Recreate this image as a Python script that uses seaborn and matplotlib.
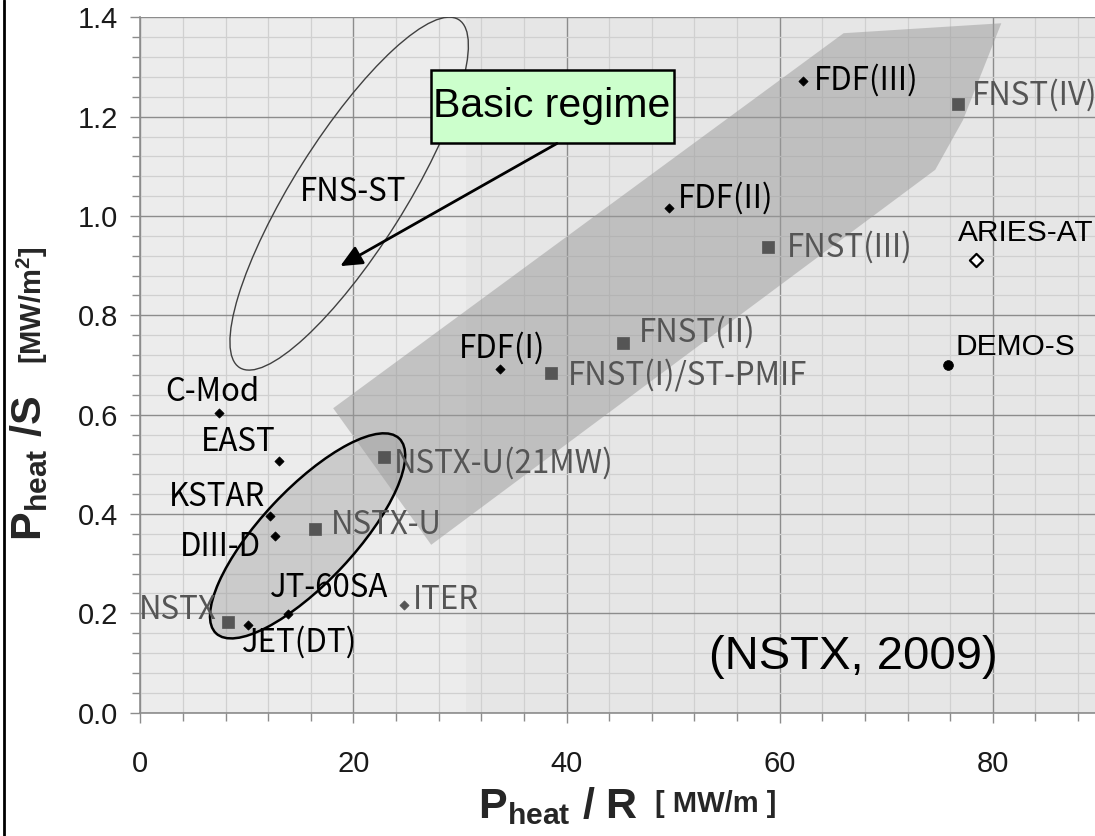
import numpy as np
import pandas as pd
import matplotlib
matplotlib.use("Agg")
import matplotlib.pyplot as plt
import seaborn as sns
from matplotlib.patches import Ellipse, Polygon, Rectangle
from matplotlib.transforms import ScaledTranslation
from matplotlib.lines import Line2D

# ---------------- data ----------------
diamond_names = ["C-Mod", "EAST", "KSTAR", "DIII-D", "JET(DT)", "JT-60SA",
                 "FDF(I)", "FDF(II)", "FDF(III)"]
diamond_x = [7.4, 13.0, 12.2, 12.6, 10.1, 13.9, 33.8, 49.6, 62.2]
diamond_y = [0.604, 0.507, 0.397, 0.356, 0.177, 0.199, 0.691, 1.017, 1.272]

iter_names = ["ITER"]
iter_x = [24.7]
iter_y = [0.217]

square_names = ["NSTX", "NSTX-U", "NSTX-U(21MW)", "FNST(I)/ST-PMIF",
                "FNST(II)", "FNST(III)", "FNST(IV)"]
square_x = [8.2, 16.4, 22.9, 38.5, 45.3, 58.9, 76.7]
square_y = [0.183, 0.369, 0.514, 0.684, 0.744, 0.938, 1.225]

aries_names = ["ARIES-AT"]
aries_x = [78.4]
aries_y = [0.911]

demo_names = ["DEMO-S"]
demo_x = [75.8]
demo_y = [0.700]

# shaded operating band (data coordinates)
band_x = [18.1, 66.0, 80.8, 77.2, 74.6, 27.3]
band_y = [0.613, 1.368, 1.388, 1.193, 1.093, 0.338]

x_ticks = [0, 20, 40, 60, 80]
y_ticks = [0.0, 0.2, 0.4, 0.6, 0.8, 1.0, 1.2, 1.4]
y_tick_labels = ["0.0", "0.2", "0.4", "0.6", "0.8", "1.0", "1.2", "1.4"]

# ---------------- style ----------------
sns.set_theme(style="white")
plt.rcParams["font.family"] = ["Liberation Sans", "DejaVu Sans"]
plt.rcParams["mathtext.fontset"] = "custom"
plt.rcParams["mathtext.rm"] = "Liberation Sans"
plt.rcParams["mathtext.bf"] = "Liberation Sans:bold"
plt.rcParams["mathtext.it"] = "Liberation Sans:italic"

LABEL_FONT = ["Noto Sans CJK JP", "Liberation Sans"]
LABEL_SIZE = 22.5
GRAY = "#555555"

W, H = 1095, 836
fig = plt.figure(figsize=(W / 100, H / 100), dpi=100)
ax = fig.add_axes([140.3 / W, 1 - 712.7 / H, 1 - 140.3 / W + 0.003, (712.7 - 17.3) / H])
ax.set_facecolor("#e6e6e6")
ax.set_xlim(0, 89.9)
ax.set_ylim(0, 1.4)

# lighter left part of the plotting area
ax.axvspan(0, 30.6, color="#ececec", zorder=0, lw=0)

# grid
ax.set_xticks(x_ticks)
ax.set_xticks(np.arange(0, 90, 4), minor=True)
ax.set_yticks(y_ticks)
ax.set_yticks(np.arange(0, 1.41, 0.04), minor=True)
ax.set_yticklabels(y_tick_labels)
ax.grid(True, which="minor", color="#d0d0d0", lw=0.9, zorder=0.5)
ax.grid(True, which="major", color="#8c8c8c", lw=1.0, zorder=0.5)
ax.set_axisbelow(True)
for s in ["top", "right"]:
    ax.spines[s].set_visible(False)
for s in ["left", "bottom"]:
    ax.spines[s].set_color("#8c8c8c")
    ax.spines[s].set_linewidth(1.2)
ax.tick_params(which="both", direction="out", color="#8c8c8c", width=1.0,
               left=True, bottom=True)
ax.tick_params(which="major", length=7)
ax.tick_params(which="minor", length=6)
ax.tick_params(axis="y", labelsize=21, pad=9, labelcolor="#1a1a1a")
ax.tick_params(axis="x", labelsize=21, pad=20, labelcolor="#1a1a1a")

# band
ax.add_patch(Polygon(np.column_stack([band_x, band_y]), closed=True,
                     facecolor="#9a9a9a", alpha=0.5, edgecolor="none", zorder=1))

# ellipses (sizes in pixels, centre in data units)
def ellipse(xc, yc, a_px, b_px, ang, **kw):
    tr = fig.dpi_scale_trans + ScaledTranslation(xc, yc, ax.transData)
    e = Ellipse((0, 0), 2 * a_px / 100, 2 * b_px / 100, angle=ang, transform=tr, **kw)
    ax.add_patch(e)

ellipse(19.6, 1.045, 205.6, 55.6, 57.8, facecolor="none", edgecolor="#404040",
        lw=1.0, zorder=3)
ellipse(15.7, 0.356, 133.7, 46.6, 46.8, facecolor="#9a9a9a", alpha=0.4,
        edgecolor="none", zorder=2)
ellipse(15.7, 0.356, 133.7, 46.6, 46.8, facecolor="none", edgecolor="black",
        lw=1.8, zorder=3)

# markers via seaborn
def pts(names, xs, ys):
    return pd.DataFrame({"name": names, "x": xs, "y": ys})

df_d = pts(diamond_names, diamond_x, diamond_y)
df_i = pts(iter_names, iter_x, iter_y)
df_s = pts(square_names, square_x, square_y)
df_a = pts(aries_names, aries_x, aries_y)
df_m = pts(demo_names, demo_x, demo_y)

sns.scatterplot(data=df_d, x="x", y="y", marker="D", s=22, color="black",
                edgecolor="black", linewidth=0.5, ax=ax, zorder=5)
sns.scatterplot(data=df_i, x="x", y="y", marker="D", s=22, color=GRAY,
                edgecolor=GRAY, linewidth=0.5, ax=ax, zorder=5)
sns.scatterplot(data=df_s, x="x", y="y", marker="s", s=70, color=GRAY,
                edgecolor=GRAY, linewidth=0.5, ax=ax, zorder=5)
sns.scatterplot(data=df_a, x="x", y="y", marker="D", s=45, color="white",
                edgecolor="black", linewidth=1.6, ax=ax, zorder=5)
sns.scatterplot(data=df_m, x="x", y="y", marker="o", s=50, color="black",
                edgecolor="black", linewidth=0.5, ax=ax, zorder=5)
ax.set_xlabel("")
ax.set_ylabel("")

# labels: (offset px, ha, color)
label_style = {
    "C-Mod": ((-7, 21), "center", "black"),
    "EAST": ((-3, 19), "right", "black"),
    "KSTAR": ((-5, 19), "right", "black"),
    "DIII-D": ((-14, -11), "right", "black"),
    "JET(DT)": ((-6, -18), "left", "black"),
    "JT-60SA": ((-18, 26), "left", "black"),
    "FDF(I)": ((2, 21), "center", "black"),
    "FDF(II)": ((9, 9), "left", "black"),
    "FDF(III)": ((11, 1), "left", "black"),
    "ITER": ((9, 5), "left", GRAY),
    "NSTX": ((-11, 12), "right", GRAY),
    "NSTX-U": ((16, 4), "left", GRAY),
    "NSTX-U(21MW)": ((10, -6), "left", GRAY),
    "FNST(I)/ST-PMIF": ((17, -2), "left", GRAY),
    "FNST(II)": ((16, 11), "left", GRAY),
    "FNST(III)": ((19, -1), "left", GRAY),
    "FNST(IV)": ((14, 9), "left", GRAY),
}
for df in [df_d, df_i, df_s]:
    for _, r in df.iterrows():
        off, ha, col = label_style[r["name"]]
        ax.annotate(r["name"], (r["x"], r["y"]), xytext=off, textcoords="offset pixels",
                    ha=ha, va="center", fontsize=LABEL_SIZE, color=col,
                    family=LABEL_FONT, zorder=6)

ax.annotate(aries_names[0], (aries_x[0], aries_y[0]), xytext=(-18, 27),
            textcoords="offset pixels", ha="left", va="center", fontsize=21.5,
            color="black", zorder=6)
ax.annotate(demo_names[0], (demo_x[0], demo_y[0]), xytext=(7, 18),
            textcoords="offset pixels", ha="left", va="center", fontsize=21.5,
            color="black", zorder=6)

ax.text(20.0, 1.048, "FNS-ST", ha="center", va="center", fontsize=LABEL_SIZE,
        family=LABEL_FONT, color="black", zorder=6)
ax.text(66.9, 0.112, "(NSTX, 2009)", ha="center", va="center", fontsize=34,
        color="black", zorder=6)

# Basic regime box + arrow
ax.add_patch(Rectangle((27.24, 1.146), 50.07 - 27.24, 1.294 - 1.146,
                       facecolor="#ccffcc", edgecolor="black", lw=1.8, zorder=7))
ax.text(38.65, 1.222, "Basic regime", ha="center", va="center", fontsize=29.5,
        color="black", zorder=8)
ax.annotate("", xy=(18.76, 0.899), xytext=(39.1, 1.146),
            arrowprops=dict(arrowstyle="-|>,head_length=1.1,head_width=0.5",
                            color="black", lw=2.0, shrinkA=0, shrinkB=0), zorder=7)

# axis labels
fig.text(478 / W, 1 - 806 / H, r"$\mathbf{P_{heat}}$ $\mathbf{/\ R}$",
         fontsize=31, ha="left", va="center")
fig.text(655 / W, 1 - 804 / H, "[ MW/m ]", fontsize=21, fontweight="bold",
         ha="left", va="center")
fig.text(29 / W, 1 - 468 / H, r"$\mathbf{P_{heat}}$ $\mathbf{/S}$",
         fontsize=31, rotation=90, ha="center", va="center")
fig.text(32 / W, 1 - 305 / H, r"[MW/m$\mathbf{^{2}}$]", fontsize=21,
         fontweight="bold", rotation=90, ha="center", va="center")

# left frame line
fig.add_artist(Line2D([4 / W, 4 / W], [0, 1], color="black", lw=2,
                      transform=fig.transFigure))

fig.savefig("out.png", dpi=100)
